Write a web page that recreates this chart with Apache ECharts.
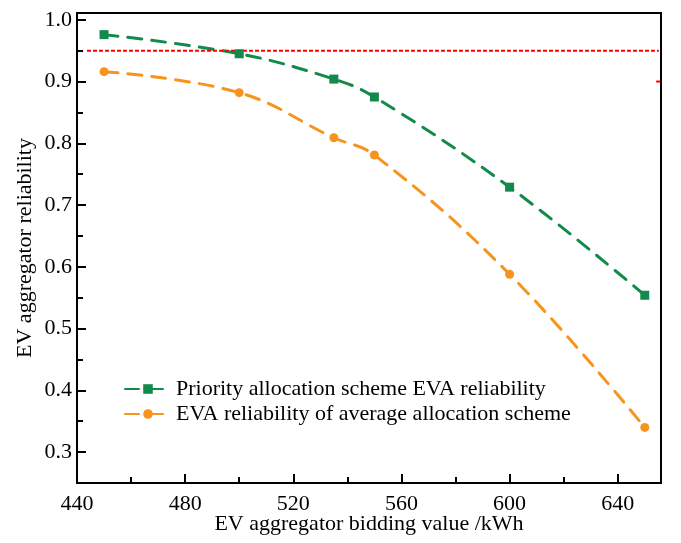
<!DOCTYPE html>
<html>
<head>
<meta charset="utf-8">
<script src="https://cdn.jsdelivr.net/npm/echarts@6/dist/echarts.min.js"></script>
<style>html,body{margin:0;padding:0;background:#fff}#c{width:681px;height:543px}</style>
</head>
<body>
<div id="c"></div>
<script>
const xValues = [450, 500, 535, 550, 600, 650];
const priorityReliability = [0.976, 0.945, 0.904, 0.875, 0.729, 0.554];
const averageReliability = [0.916, 0.882, 0.809, 0.781, 0.588, 0.340];
const seriesNames = ['Priority allocation scheme EVA reliability', 'EVA reliability of average allocation scheme'];
const thresholdLine = [[443.7, 0.95], [655.2, 0.95]];
const smallMark = [[654.2, 0.9], [655.8, 0.9]];
const yMajorTicks = [0.3, 0.4, 0.5, 0.6, 0.7, 0.8, 0.9, 1.0];
const yMinorTicks = [0.25, 0.35, 0.45, 0.55, 0.65, 0.75, 0.85, 0.95];
const xAxisName = 'EV aggregator bidding value /kWh';
const yAxisName = 'EV aggregator reliability';

const font = 'Liberation Serif';
const fs = 22;
const chart = echarts.init(document.getElementById('c'));
const pair = (xs, ys) => xs.map((x, i) => [x, ys[i]]);
const yBase = {type: 'value', min: 0.25, max: 1.011, position: 'left', splitLine: {show: false}};
chart.setOption({
  animation: false,
  backgroundColor: '#fff',
  grid: {left: 77, right: 20, top: 13, bottom: 60, outerBoundsMode: 'none', containLabel: false, show: true, borderColor: '#000', borderWidth: 2, backgroundColor: 'transparent'},
  legend: {
    data: seriesNames, orient: 'vertical', left: 119, top: 373, itemWidth: 46, itemHeight: 12, itemGap: 3,
    textStyle: {fontFamily: font, fontSize: fs, color: '#000'}
  },
  xAxis: {
    type: 'value', min: 440, max: 656, interval: 40,
    name: xAxisName, nameLocation: 'middle', nameGap: 30, nameMoveOverlap: false,
    nameTextStyle: {fontFamily: font, fontSize: fs, color: '#000'},
    axisLine: {show: true, lineStyle: {color: '#000', width: 2}},
    axisTick: {show: true, inside: true, length: 9, lineStyle: {color: '#000', width: 2}},
    minorTick: {show: true, splitNumber: 2, length: 6, lineStyle: {color: '#000', width: 2}},
    axisLabel: {fontFamily: font, fontSize: fs, color: '#000', margin: 10, showMaxLabel: false},
    splitLine: {show: false}
  },
  yAxis: [
    Object.assign({}, yBase, {
      name: yAxisName, nameLocation: 'middle', nameGap: 41, nameMoveOverlap: false,
      nameTextStyle: {fontFamily: font, fontSize: fs, color: '#000'},
      axisLine: {show: true, lineStyle: {color: '#000', width: 2}},
      axisTick: {show: true, inside: true, length: 9, customValues: yMajorTicks, lineStyle: {color: '#000', width: 2}},
      axisLabel: {fontFamily: font, fontSize: fs, color: '#000', margin: 5, customValues: yMajorTicks, formatter: v => v.toFixed(1)}
    }),
    Object.assign({}, yBase, {
      axisLine: {show: false},
      axisTick: {show: true, inside: true, length: 6, customValues: yMinorTicks, lineStyle: {color: '#000', width: 2}},
      axisLabel: {show: false}
    })
  ],
  series: [
    {
      name: seriesNames[0], type: 'line', data: pair(xValues, priorityReliability), smooth: 0.4,
      symbol: 'rect', symbolSize: 9, color: '#138a4b',
      lineStyle: {type: [14, 10], width: 3, color: '#138a4b', cap: 'round'}, itemStyle: {color: '#138a4b'}
    },
    {
      name: seriesNames[1], type: 'line', data: pair(xValues, averageReliability), smooth: 0.4,
      symbol: 'circle', symbolSize: 9, color: '#f7941d',
      lineStyle: {type: [14, 10], width: 3, color: '#f7941d', cap: 'round'}, itemStyle: {color: '#f7941d'}
    },
    {
      name: 'threshold', type: 'line', data: thresholdLine, symbol: 'none', silent: true,
      lineStyle: {type: [4, 2], width: 2, color: '#ff0000'}
    },
    {
      name: 'mark', type: 'line', data: smallMark, symbol: 'none', silent: true,
      lineStyle: {width: 2, color: '#ff0000'}
    }
  ]
});
</script>
</body>
</html>
